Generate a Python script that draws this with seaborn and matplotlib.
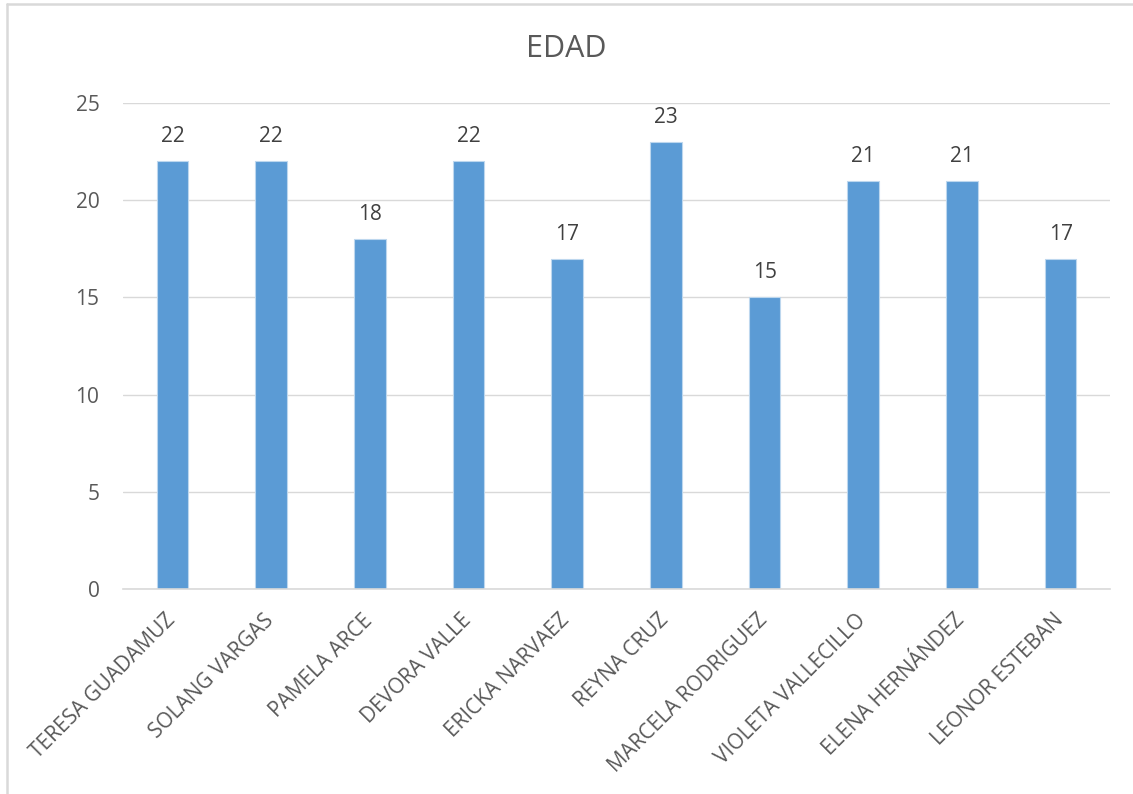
import matplotlib
matplotlib.use("Agg")
import matplotlib.pyplot as plt
import matplotlib.transforms as mtransforms
import seaborn as sns
import pandas as pd
from matplotlib.lines import Line2D

nombres = ["TERESA GUADAMUZ", "SOLANG VARGAS", "PAMELA ARCE", "DEVORA VALLE",
           "ERICKA NARVAEZ", "REYNA CRUZ", "MARCELA RODRIGUEZ",
           "VIOLETA VALLECILLO", "ELENA HERNÁNDEZ", "LEONOR ESTEBAN"]
edades = [22, 22, 18, 22, 17, 23, 15, 21, 21, 17]
yticks = [0, 5, 10, 15, 20, 25]

sns.set_theme(style="white")
plt.rcParams['font.family'] = ['Open Sans', 'DejaVu Sans']

gris = "#595959"
df = pd.DataFrame({"nombre": nombres, "edad": edades})

fig = plt.figure(figsize=(11.33, 7.94), dpi=100)
ax = fig.add_axes([0.1086, 0.2582, 0.8711, 0.6121])

sns.barplot(data=df, x="nombre", y="edad", color="#5B9BD5", width=0.32,
            edgecolor="#BDD7EE", linewidth=0.8, saturation=1, ax=ax)

ax.set_ylim(0, 25)
ax.set_yticks(yticks)
ax.set_xlim(-0.5, len(nombres) - 0.5)
ax.yaxis.grid(True, color="#D9D9D9", linewidth=1)
ax.set_axisbelow(True)
for s in ["left", "top", "right"]:
    ax.spines[s].set_visible(False)
ax.spines["bottom"].set_color("#D9D9D9")
ax.spines["bottom"].set_linewidth(1.2)
ax.tick_params(axis="both", length=0, colors=gris, labelsize=15)
ax.tick_params(axis="y", pad=17)
ax.set_xticks(range(len(nombres)))
ax.set_xticklabels(nombres, rotation=45, ha="right", rotation_mode="anchor")
ax.set_xlabel("")
ax.set_ylabel("")

# desplazar etiquetas del eje x como en el original
offset = mtransforms.ScaledTranslation(-8 / 100, -16 / 100, fig.dpi_scale_trans)
for lbl in ax.get_xticklabels():
    lbl.set_transform(lbl.get_transform() + offset)

for c in ax.containers:
    ax.bar_label(c, labels=[str(v) for v in edades], padding=10,
                 fontsize=15, color="#404040")

fig.text(0.5, 0.938, "EDAD", ha="center", va="center", fontsize=22, color=gris)

# borde del grafico (solo arriba e izquierda visibles)
fig.add_artist(Line2D([0.006, 1], [0.9945, 0.9945], transform=fig.transFigure,
                      color="#D9D9D9", linewidth=1.8))
fig.add_artist(Line2D([0.0062, 0.0062], [0, 0.9945], transform=fig.transFigure,
                      color="#D9D9D9", linewidth=1.8))

fig.savefig("out.png", dpi=100)
